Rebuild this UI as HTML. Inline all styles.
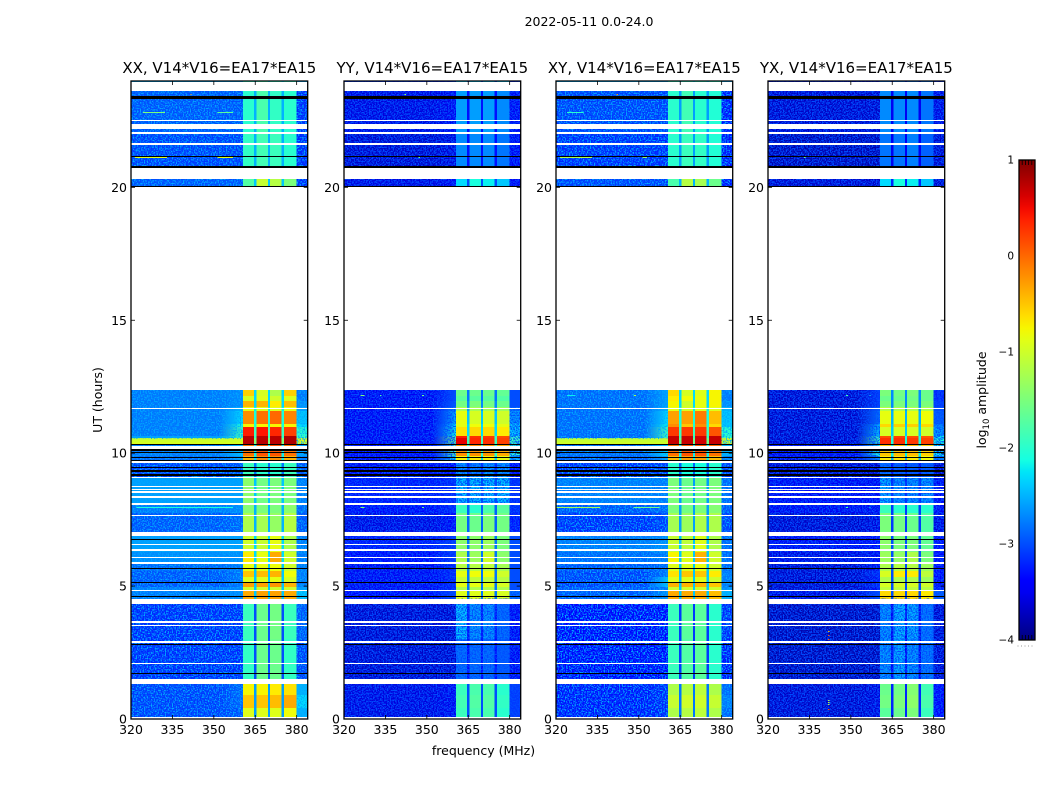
<!DOCTYPE html>
<html lang="en">
<head>
<meta charset="utf-8">
<title>2022-05-11 spectrogram panels</title>
<style>
html,body{margin:0;padding:0;background:#fff;}
svg{display:block;}
text{font-family:"DejaVu Sans","Liberation Sans",sans-serif;fill:#000;}
</style>
</head>
<body>
<svg id="figure" xmlns="http://www.w3.org/2000/svg" width="1050" height="800" viewBox="0 0 1050 800">
  <defs id="figure-defs">
    <filter id="speckle-bright" x="0" y="0" width="1" height="1" color-interpolation-filters="sRGB">
      <feTurbulence type="fractalNoise" baseFrequency="0.72" numOctaves="1" seed="3"/>
      <feColorMatrix type="matrix" values="0 0 0 0 0  0 0 0 0 0.66  0 0 0 0 1  5 0 0 0 -2.3"/>
    </filter>
    <filter id="speckle-dark" x="0" y="0" width="1" height="1" color-interpolation-filters="sRGB">
      <feTurbulence type="fractalNoise" baseFrequency="0.72" numOctaves="1" seed="8"/>
      <feColorMatrix type="matrix" values="0 0 0 0 0  0 0 0 0 0.3  0 0 0 0 1  5 0 0 0 -2.1"/>
    </filter>
    <linearGradient id="jet-gradient" x1="0" y1="1" x2="0" y2="0"></linearGradient>
  </defs>
  <text x="589" y="26" font-size="12.5" text-anchor="middle">2022-05-11 0.0-24.0</text>
  <text x="483.5" y="755" font-size="12.5" text-anchor="middle">frequency (MHz)</text>
  <text x="102" y="400" font-size="12.5" text-anchor="middle" transform="rotate(-90 102 400)">UT (hours)</text>
  <text x="986" y="400" font-size="12.5" text-anchor="middle" transform="rotate(-90 986 400)">log<tspan font-size="8.5" dy="3">10</tspan><tspan dy="-3"> amplitude</tspan></text>
</svg>
<script>
// Frequency bin edges (MHz): off-band, shoulder, four sub-bands separated by notches, off-band
const freqEdges = [320, 352, 360.5, 364.6, 365.4, 369.6, 370.4, 374.6, 375.4, 380, 384];
// Which amplitude column each frequency bin reads: L, G, B1, N, B2, N, B3, N, B4, R
const binColumns = [0, 1, 2, 7, 3, 7, 4, 7, 5, 6];
// Time bin edges (hours UT)
const utEdges = [0.08,0.4,0.9,1.5,3,4.53,4.83,4.97,5.15,5.34,5.57,5.87,6.28,7.03,7.75,8.1,9.06,9.67,9.9,10.35,10.57,10.65,10.98,11.1,11.6,11.73,11.96,12.15,12.38,20,20.31,20.74,22,23.62,23.96,24];

// log10 amplitude by time bin. Columns: left, shoulder, B1, B2, B3, B4, right, notch
const ampXX = [
[-3.1,-3,-.9,-.9,-.9,-.8,-2.5,-2.6],
[-3.1,-2.9,-.5,-.5,-.45,-.35,-2.3,-2.6],
[-3.1,-2.9,-.75,-.75,-.7,-.65,-2.5,-2.6],
[-3.2,-3.2,-1.95,-1.6,-1.6,-1.95,-3.1,-3],
[-3.2,-3.2,-1.9,-1.6,-1.55,-1.9,-3,-3],
[-2.8,-2.7,-.35,-.3,-.3,-.35,-2.4,-2.4],
[-2.8,-2.7,-1,-1,-1,-1,-2.6,-2.4],
[-3,-2.8,-.3,-.3,-.25,-.4,-2.8,-2.4],
[-3,-2.8,-.9,-.9,-.85,-.95,-2.8,-2.4],
[-3,-2.8,-.5,-.45,-.4,-.8,-2.8,-2.4],
[-2.9,-2.8,-.85,-.85,-.8,-1,-2.8,-2.4],
[-2.7,-2.7,-.7,-.85,-.35,-1,-2.8,-2.3],
[-2.6,-2.6,-1,-1.05,-.85,-1.2,-2.8,-2.3],
[-3,-2.9,-1.2,-1.25,-1.35,-1.15,-3,-2.5],
[-2.8,-2.7,-1.45,-1.5,-1.5,-1.4,-2.9,-2.5],
[-2.6,-2.6,-1.4,-1.55,-1.5,-1.5,-2.8,-2.4],
[-3.1,-3,-1.9,-2,-2,-1.9,-3,-2.8],
[-2.9,-2.6,-.4,-.2,-.2,-.4,-2.8,-2.2],
[-2.8,-2.4,-.05,.1,.1,-.05,-2.6,-2.2],
[-1,-.85,.75,.75,.75,.8,-.95,-1.5],
[-2.6,-1.9,.75,.75,.75,.8,-1.9,-1.9],
[-2.8,-1.9,.4,.45,.35,.2,-2,-1.9],
[-2.8,-2.1,-.75,-.75,-.75,-.75,-2.3,-2.1],
[-2.8,-2.3,-.2,-.05,0,-.15,-2.4,-2.1],
[-2.8,-2.5,-.85,-.9,-.9,-.85,-2.6,-2.2],
[-2.8,-2.7,-.4,-.4,-.7,-.45,-2.7,-2.3],
[-2.8,-2.7,-.95,-.9,-1,-.9,-2.8,-2.3],
[-2.8,-2.7,-.55,-.95,-1.2,-.55,-2.8,-2.3],
null,
[-3,-3,-1.75,-1.05,-1.15,-1.5,-3.2,-2.4],
null,
[-3.1,-3.1,-1.95,-1.85,-1.9,-2,-3.2,-2.5],
[-3,-3,-2,-1.8,-1.95,-2,-3.2,-2.5],
null,
[-2.5,-2.5,-2,-1.9,-2,-2,-2.5,-2.3]
];
const ampYY = [
[-3.6,-3.5,-1.9,-1.8,-1.8,-2,-3.1,-3],
[-3.6,-3.5,-1.85,-1.75,-1.75,-1.95,-3.1,-3],
[-3.6,-3.5,-1.9,-1.8,-1.8,-2,-3.1,-3],
[-3.7,-3.7,-2.8,-2.8,-2.8,-2.9,-3.5,-3.4],
[-3.7,-3.7,-2.4,-2.6,-2.6,-2.8,-3.5,-3.3],
[-3.4,-3,-.9,-.9,-.9,-.95,-2.8,-2.8],
[-3.5,-3.2,-1.2,-1.2,-1.2,-1.2,-3,-2.8],
[-3.5,-3.2,-.85,-.85,-.85,-.95,-3,-2.8],
[-3.5,-3.2,-1.05,-1.1,-1.1,-1.15,-3,-2.8],
[-3.5,-3.2,-.85,-.8,-.8,-1,-3,-2.8],
[-3.5,-3.2,-1.15,-1.15,-1.1,-1.25,-3,-2.8],
[-3.4,-3.1,-1.2,-1.3,-1,-1.4,-3,-2.8],
[-3.3,-3.1,-1.4,-1.4,-1.3,-1.5,-3,-2.8],
[-3.6,-3.4,-1.55,-1.6,-1.5,-1.55,-3.3,-2.9],
[-3.4,-3.2,-1.9,-2,-1.8,-1.7,-3.2,-2.9],
[-3.3,-3.2,-2.4,-2.4,-2.4,-2.4,-3.2,-3],
[-3.5,-3.4,-2.6,-2.7,-2.6,-2.6,-3.4,-3.2],
[-3.5,-2.2,-.75,-.7,-.75,-.85,-2.4,-2.3],
[-3.4,-1.8,-.2,-.2,-.25,-.35,-2,-2],
[-3.5,-1.7,.55,.35,.3,.2,-1.9,-1.9],
[-3.5,-1.8,.4,.3,.25,.15,-2,-1.9],
[-3.5,-2.2,-.65,-.6,-.6,-.7,-2.4,-2.3],
[-3.5,-2.3,-.85,-.8,-.8,-.85,-2.4,-2.3],
[-3.5,-2.5,-.85,-.95,-.95,-1,-2.6,-2.4],
[-3.5,-2.7,-1.2,-1.25,-1.25,-1.3,-2.8,-2.6],
[-3.5,-2.9,-1.55,-1.5,-1.55,-1.6,-3,-2.7],
[-3.5,-3,-1.7,-1.7,-1.7,-1.75,-3,-2.8],
[-3.5,-3,-1.6,-1.6,-1.6,-1.65,-3,-2.8],
null,
[-3.6,-3.5,-2.3,-2.1,-2.2,-2.4,-3.5,-3],
null,
[-3.7,-3.6,-2.7,-2.7,-2.7,-2.8,-3.5,-3.3],
[-3.6,-3.5,-2.6,-2.6,-2.6,-2.7,-3.5,-3.3],
null,
[-3.2,-3.2,-2.4,-2.4,-2.4,-2.4,-3.2,-3]
];
const ampXY = [
[-3.3,-3.2,-1.2,-1.15,-1.1,-1.2,-2.9,-2.8],
[-3.3,-3.2,-1.05,-1,-1,-1.05,-2.8,-2.8],
[-3.3,-3.2,-1.2,-1.15,-1.1,-1.2,-2.9,-2.8],
[-3.4,-3.4,-1.9,-1.75,-1.7,-2,-3.3,-3.1],
[-3.4,-3.4,-1.9,-1.7,-1.7,-2,-3.2,-3.1],
[-3,-2.7,-.35,-.35,-.35,-.45,-2.5,-2.4],
[-3,-2.8,-1,-1,-1,-1,-2.7,-2.4],
[-3.1,-2.4,-.4,-.4,-.4,-.5,-2.8,-2.4],
[-3.1,-2.4,-.9,-.9,-.9,-1,-2.8,-2.4],
[-3.1,-2.8,-.65,-.5,-.5,-.7,-2.8,-2.4],
[-3,-2.9,-.9,-.9,-.85,-1,-2.9,-2.4],
[-2.9,-2.8,-.75,-.9,-.4,-1,-2.9,-2.4],
[-2.8,-2.7,-1.05,-1.1,-.9,-1.2,-2.9,-2.4],
[-3.2,-3.1,-1.25,-1.3,-1.2,-1.2,-3.1,-2.6],
[-3,-2.9,-1.5,-1.55,-1.5,-1.45,-3,-2.6],
[-2.8,-2.8,-1.5,-1.6,-1.55,-1.5,-2.9,-2.6],
[-3.2,-3.1,-2,-2.1,-2.1,-2,-3.1,-2.9],
[-3,-2.6,-.45,-.3,-.3,-.45,-2.8,-2.2],
[-2.9,-2.3,-.05,.1,.1,-.05,-2.5,-2.2],
[-1.05,-.9,.7,.7,.65,.7,-1,-1.6],
[-2.9,-1.9,.7,.7,.65,.7,-1.9,-1.9],
[-2.9,-1.9,.25,.25,.25,.1,-2,-1.9],
[-2.9,-2.2,-.2,-.5,-.2,-.6,-2.4,-2.1],
[-2.9,-2.3,-.3,-.3,-.1,-.45,-2.4,-2.1],
[-2.9,-2.5,-.85,-.95,-.9,-.9,-2.5,-2.2],
[-2.9,-2.6,-.75,-1,-.85,-.75,-2.7,-2.3],
[-2.9,-2.6,-.7,-.8,-.85,-.75,-2.8,-2.3],
[-2.9,-2.6,-.6,-.95,-.9,-.75,-2.8,-2.3],
null,
[-3.1,-3.1,-1.8,-1.15,-1.25,-1.6,-3.3,-2.5],
null,
[-3.2,-3.2,-2,-1.9,-1.95,-2.05,-3.3,-2.6],
[-3.1,-3.1,-2,-1.85,-2,-2.05,-3.3,-2.6],
null,
[-2.5,-2.5,-2,-2,-2,-2,-2.5,-2.3]
];
const ampYX = [
[-3.7,-3.6,-1.7,-1.6,-1.5,-1.9,-3.4,-3.2],
[-3.7,-3.6,-1.55,-1.5,-1.4,-1.8,-3.4,-3.2],
[-3.7,-3.6,-1.6,-1.55,-1.45,-1.85,-3.4,-3.2],
[-3.8,-3.8,-2.6,-2.5,-2.6,-2.75,-3.7,-3.5],
[-3.8,-3.8,-2.6,-2.45,-2.5,-2.75,-3.7,-3.5],
[-3.6,-3,-.6,-.6,-.6,-.7,-2.9,-3],
[-3.7,-3.4,-1.1,-1.1,-1.1,-1.15,-3.3,-3],
[-3.7,-3.2,-.95,-.95,-.95,-1,-3.4,-3],
[-3.7,-3.3,-1.2,-1.2,-1.2,-1.3,-3.4,-3],
[-3.7,-3.2,-.95,-.7,-.7,-1.1,-3.4,-3],
[-3.7,-3.5,-1.2,-1.15,-1.15,-1.3,-3.4,-3],
[-3.6,-3.5,-1.3,-1.35,-1.2,-1.5,-3.4,-3],
[-3.5,-3.4,-1.4,-1.5,-1.5,-1.65,-3.4,-3],
[-3.7,-3.6,-1.5,-1.55,-1.6,-1.75,-3.6,-3.1],
[-3.5,-3.5,-1.9,-2,-2,-2,-3.5,-3.1],
[-3.5,-3.5,-2.5,-2.6,-2.6,-2.6,-3.5,-3.2],
[-3.7,-3.7,-2.8,-2.9,-2.9,-2.9,-3.7,-3.5],
[-3.6,-2.6,-.7,-.65,-.7,-.8,-2.7,-2.5],
[-3.5,-2.1,-.5,-.45,-.45,-.55,-2.2,-2.2],
[-3.7,-1.9,.3,.3,.25,.2,-2.1,-2.1],
[-3.7,-2,.15,.2,.15,.1,-2.2,-2.1],
[-3.7,-2.4,-.95,-.95,-.95,-1,-2.6,-2.4],
[-3.7,-2.5,-.6,-.55,-.55,-.6,-2.7,-2.4],
[-3.7,-2.8,-.85,-.85,-.85,-.8,-2.9,-2.5],
[-3.7,-2.9,-1.15,-1.2,-1.2,-1.2,-3,-2.6],
[-3.7,-3.1,-1.5,-1.5,-1.5,-1.5,-3.1,-2.7],
[-3.7,-3.1,-1.6,-1.6,-1.55,-1.6,-3.2,-2.7],
[-3.7,-3.1,-1.5,-1.55,-1.5,-1.6,-3.2,-2.7],
null,
[-3.7,-3.7,-2.3,-2.1,-2.2,-2.4,-3.7,-3.2],
null,
[-3.8,-3.8,-2.8,-2.8,-2.75,-2.9,-3.7,-3.5],
[-3.7,-3.7,-2.7,-2.7,-2.7,-2.8,-3.6,-3.5],
null,
[-3.3,-3.3,-2.8,-2.8,-2.8,-2.8,-3.3,-3.2]
];

// Narrow RFI features: [ut hours, start MHz, end MHz, log10 amplitude]
const streaksXX = [[21.14,321.4,333,-.9],[21.14,351.4,357,-.9],[22.82,324.3,332.3,-1.5],[22.82,351.4,357,-1.7],[23.5,341.5,342,-.3],[7.97,322,357,-2.1],[10.37,320,360.5,-.95],[10.41,320,360.5,-.95],[10.45,320,360.5,-1],[10.48,320,360.5,-1],[10.52,320,360.5,-1.05]];
const streaksYY = [[12.19,326,327.5,-1.5],[12.19,333,333.5,-1.8],[12.19,348.3,349,-1.6],[7.97,326,327.5,-1.5],[7.97,348.3,349,-1.6],[21.14,347,347.5,-1.6],[23.5,342,342.4,-1.4]];
const streaksXY = [[21.14,321.4,333,-1.2],[21.14,351.4,353,-1.4],[22.82,324,330,-2],[23.5,342,342.4,-.3],[7.97,320,336,-1.3],[7.97,348,357.5,-1.6],[12.19,324,327,-2.2],[12.19,348.3,349,-1.2],[10.37,320,360.5,-1],[10.41,320,360.5,-1],[10.45,320,360.5,-1.05],[10.48,320,360.5,-1.05],[10.52,320,360.5,-1.1]];
const streaksYX = [[3,341.8,342.2,0],[3.15,341.8,342.2,.1],[3.3,341.8,342.2,-.4],[.37,341.8,342.2,.1],[.55,341.8,342.2,-1.1],[.65,341.8,342.2,-1.1],[.72,341.8,342.2,-1.2],[12.19,348.3,349,-1.8],[12.19,356.7,357.1,-2.2],[7.97,348.3,349,-1.8],[7.97,356.7,357.1,-2.2],[23.4,341.8,342.2,-.7],[21.14,333,333.5,-1.6]];

// Time ranges (hours UT) where the in-band signal is speckled by noise
const bandNoiseXX = [];
const bandNoiseYY = [[1.5,4.53],[8.1,9.67]];
const bandNoiseXY = [];
const bandNoiseYX = [[1.5,4.53],[8.1,9.67]];

// Time ranges with no data, rendered white (hours UT)
const blankRanges = [[0,.08],[1.32,1.5],[2.06,2.11],[2.87,2.92],[3.49,3.54],[3.62,3.67],[4.33,4.53],[4.82,4.87],[5.84,5.89],[6.06,6.11],[6.33,6.38],[6.54,6.59],[6.88,7.02],[7.62,7.67],[8.05,8.12],[8.33,8.38],[8.51,8.56],[8.62,8.67],[8.73,8.78],[9.05,9.1],[9.64,9.69],[10.17,10.27],[11.65,11.7],[12.38,20],[20.31,20.74],[21.6,21.65],[22.02,22.07],[22.2,22.38],[22.48,22.53],[23.62,23.96]];
// Time ranges with zero amplitude, rendered black (hours UT)
const darkRanges = [[1.7,1.74],[2.8,2.84],[4.58,4.62],[5.12,5.16],[5.65,5.69],[6.74,6.78],[9.14,9.21],[9.3,9.37],[9.45,9.49],[9.68,9.74],[9.82,9.86],[10.01,10.05],[10.1,10.14],[10.31,10.35],[20,20.05],[20.74,20.82],[21.13,21.16],[23.34,23.44]];

const freqTicks = [320, 335, 350, 365, 380];
const utTicks = [0, 5, 10, 15, 20];
const panelTitles = ["XX, V14*V16=EA17*EA15", "YY, V14*V16=EA17*EA15", "XY, V14*V16=EA17*EA15", "YX, V14*V16=EA17*EA15"];
const panelKeys = ["xx", "yy", "xy", "yx"];
const colorbarTicks = [1, 0, -1, -2, -3, -4];

const panelMatrices = [ampXX, ampYY, ampXY, ampYX];
const panelStreaks = [streaksXX, streaksYY, streaksXY, streaksYX];
const panelBandNoise = [bandNoiseXX, bandNoiseYY, bandNoiseXY, bandNoiseYX];
const panelSpeckle = ["speckle-bright", "speckle-dark", "speckle-bright", "speckle-dark"];
const panelLefts = [131, 344, 556, 768];

const PANEL_W = 176.7, PANEL_TOP = 81, PANEL_BOTTOM = 719;
const F_MIN = 320, F_MAX = 384, UT_MAX = 24;
const CB_LEFT = 1019, CB_RIGHT = 1035, CB_TOP = 160, CB_BOTTOM = 640;
const V_MIN = -4, V_MAX = 1;
const SVG_NS = "http://www.w3.org/2000/svg";
const root = document.getElementById("figure");
const defs = document.getElementById("figure-defs");

function yScale(ut) { return PANEL_BOTTOM - (ut / UT_MAX) * (PANEL_BOTTOM - PANEL_TOP); }
function xScale(f, left) { return left + ((f - F_MIN) / (F_MAX - F_MIN)) * PANEL_W; }
function cbScale(v) { return CB_BOTTOM - ((v - V_MIN) / (V_MAX - V_MIN)) * (CB_BOTTOM - CB_TOP); }

function ramp(t, pts) {
  for (let i = 1; i < pts.length; i++) {
    if (t <= pts[i][0]) {
      const a = pts[i - 1], b = pts[i];
      return a[1] + (b[1] - a[1]) * (t - a[0]) / (b[0] - a[0]);
    }
  }
  return pts[pts.length - 1][1];
}
function jet(v) {
  const t = Math.min(1, Math.max(0, (v - V_MIN) / (V_MAX - V_MIN)));
  const r = ramp(t, [[0,0],[.35,0],[.66,1],[.89,1],[1,.5]]);
  const g = ramp(t, [[0,0],[.125,0],[.375,1],[.64,1],[.91,0],[1,0]]);
  const b = ramp(t, [[0,.5],[.11,1],[.34,1],[.65,0],[1,0]]);
  return "rgb(" + Math.round(r * 255) + "," + Math.round(g * 255) + "," + Math.round(b * 255) + ")";
}
function mk(tag, attrs, parent) {
  const e = document.createElementNS(SVG_NS, tag);
  for (const k in attrs) e.setAttribute(k, attrs[k]);
  parent.appendChild(e);
  return e;
}

panelLefts.forEach(function (left, p) {
  const key = panelKeys[p];
  const matrix = panelMatrices[p];
  const g = mk("g", {}, root);
  
  

  const heat = mk("g", {"shape-rendering": "crispEdges"}, g);
  
  

  matrix.forEach(function (row, r) {
    if (!row) return;
    const yTop = Math.round(yScale(utEdges[r + 1]));
    const yBot = Math.round(yScale(utEdges[r]));
    for (let b = 0; b < binColumns.length; b++) {
      const x0 = xScale(freqEdges[b], left);
      const x1 = xScale(freqEdges[b + 1], left);
      let fill = jet(row[binColumns[b]]);
      if (b === 1) {
        // the shoulder rises smoothly from the off-band level to the band edge
        const id = key + "-shoulder-" + r;
        const lg = mk("linearGradient", {id: id, x1: 0, y1: 0, x2: 1, y2: 0}, defs);
        mk("stop", {offset: 0, "stop-color": jet(row[0])}, lg);
        mk("stop", {offset: 1, "stop-color": jet(row[1])}, lg);
        fill = "url(#" + id + ")";
      }
      const cell = mk("rect", {x: x0, y: yTop, width: x1 - x0, height: Math.max(1, yBot - yTop), fill: fill}, heat);
      
      
    }
  });

  // receiver-noise texture over the off-band regions
  [[F_MIN, freqEdges[2]], [freqEdges[9], F_MAX]].forEach(function (range) {
    const xa = xScale(range[0], left), xb = xScale(range[1], left);
    const noise = mk("rect", {x: xa, y: PANEL_TOP, width: xb - xa, height: PANEL_BOTTOM - PANEL_TOP, filter: "url(#" + panelSpeckle[p] + ")"}, heat);
    
    
  });

  // noise speckle inside the band during the weaker time ranges
  panelBandNoise[p].forEach(function (range) {
    const xa = xScale(freqEdges[2], left), xb = xScale(freqEdges[9], left);
    const yTop = yScale(range[1]), yBot = yScale(range[0]);
    const noise = mk("rect", {x: xa, y: yTop, width: xb - xa, height: yBot - yTop, filter: "url(#speckle-dark)"}, heat);
    
    
  });

  panelStreaks[p].forEach(function (s) {
    const xa = xScale(s[1], left), xb = xScale(s[2], left);
    const streak = mk("rect", {x: xa, y: Math.round(yScale(s[0])), width: Math.max(1, xb - xa), height: 1, fill: jet(s[3])}, heat);
    
    
  });

  darkRanges.forEach(function (d) {
    const yTop = Math.round(yScale(d[1]));
    const yBot = Math.round(yScale(d[0]));
    const line = mk("rect", {x: left, y: yTop, width: PANEL_W, height: Math.max(1, yBot - yTop), fill: "#000"}, heat);
    
    
  });
  blankRanges.forEach(function (d) {
    const yTop = Math.round(yScale(d[1]));
    const yBot = Math.round(yScale(d[0]));
    const gap = mk("rect", {x: left, y: yTop, width: PANEL_W, height: Math.max(1, yBot - yTop), fill: "#fff"}, heat);
    
    
  });

  const frame = mk("rect", {x: left, y: PANEL_TOP, width: PANEL_W, height: PANEL_BOTTOM - PANEL_TOP, fill: "none", stroke: "#000", "stroke-width": 1.3}, g);
  
  

  freqTicks.forEach(function (f) {
    const x = xScale(f, left);
    const t1 = mk("line", {x1: x, x2: x, y1: PANEL_BOTTOM, y2: PANEL_BOTTOM - 4, stroke: "#000", "stroke-width": 0.8}, g);
    
    
    const t2 = mk("line", {x1: x, x2: x, y1: PANEL_TOP, y2: PANEL_TOP + 4, stroke: "#000", "stroke-width": 0.8}, g);
    
    
    const lab = mk("text", {x: x, y: 734, "font-size": 12.5, "text-anchor": "middle"}, g);
    
    
    lab.textContent = String(f);
  });

  utTicks.forEach(function (u) {
    const y = yScale(u);
    const t1 = mk("line", {x1: left, x2: left + 4, y1: y, y2: y, stroke: "#000", "stroke-width": 0.8}, g);
    
    
    const t2 = mk("line", {x1: left + PANEL_W, x2: left + PANEL_W - 4, y1: y, y2: y, stroke: "#000", "stroke-width": 0.8}, g);
    
    
    const lab = mk("text", {x: left - 4, y: y + 4.5, "font-size": 12.5, "text-anchor": "end"}, g);
    
    
    lab.textContent = String(u);
  });

  const title = mk("text", {x: left + PANEL_W / 2, y: 73, "font-size": 15, "text-anchor": "middle"}, g);
  
  
  title.textContent = panelTitles[p];
});

// Colorbar
const grad = document.getElementById("jet-gradient");
for (let i = 0; i <= 40; i++) {
  const v = V_MIN + (V_MAX - V_MIN) * i / 40;
  mk("stop", {offset: (i / 40), "stop-color": jet(v)}, grad);
}
const cb = mk("g", {}, root);


const cbRect = mk("rect", {x: CB_LEFT, y: CB_TOP, width: CB_RIGHT - CB_LEFT, height: CB_BOTTOM - CB_TOP, fill: "url(#jet-gradient)", stroke: "#000", "stroke-width": 1.3}, cb);


for (let i = 1; i <= 4; i++) {
  const x = CB_LEFT + (CB_RIGHT - CB_LEFT) * i / 5;
  const a = mk("line", {x1: x, x2: x, y1: CB_TOP, y2: CB_TOP + 5, stroke: "#000", "stroke-width": 0.8}, cb);
  
  
  const b = mk("line", {x1: x, x2: x, y1: CB_BOTTOM, y2: CB_BOTTOM - 5, stroke: "#000", "stroke-width": 0.8}, cb);
  
  
}
colorbarTicks.forEach(function (v) {
  const y = cbScale(v);
  const lab = mk("text", {x: 1014, y: y + 3.5, "font-size": 10.5, "text-anchor": "end"}, cb);
  
  
  lab.textContent = v < 0 ? "\u2212" + Math.abs(v) : String(v);
});
const dots = mk("line", {x1: 1017.5, x2: 1035, y1: 646, y2: 646, stroke: "#999", "stroke-width": 1, "stroke-dasharray": "1 2.5"}, cb);


</script>
</body>
</html>
